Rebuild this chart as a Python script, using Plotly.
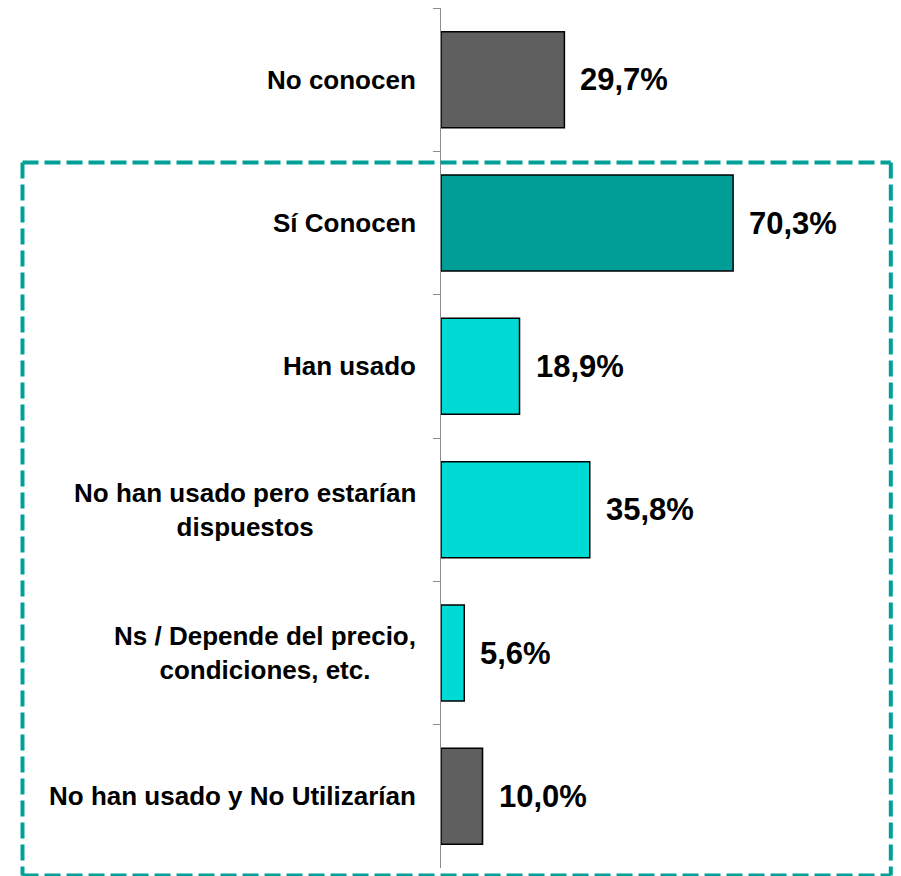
import plotly.graph_objects as go

categories = [
    "No conocen",
    "Sí Conocen",
    "Han usado",
    "No han usado pero estarían dispuestos",
    "Ns / Depende del precio, condiciones, etc.",
    "No han usado y No Utilizarían",
]
label_texts = [
    "No conocen",
    "Sí Conocen",
    "Han usado",
    "No han usado pero estarían<br>dispuestos",
    "Ns / Depende del precio,<br>condiciones, etc.",
    "No han usado y No Utilizarían",
]
values = [29.7, 70.3, 18.9, 35.8, 5.6, 10.0]
value_labels = ["29,7%", "70,3%", "18,9%", "35,8%", "5,6%", "10,0%"]
bar_colors = ["#5f5f5f", "#009e96", "#00dad4", "#00dad4", "#00dad4", "#5f5f5f"]

FONT = "Liberation Sans, Arial, sans-serif"

fig = go.Figure()
fig.add_trace(go.Bar(
    x=values, y=categories, orientation="h",
    marker=dict(color=bar_colors, line=dict(color="#000000", width=1.5)),
    width=0.67, hoverinfo="skip",
))

annotations = []
for cat, txt in zip(categories, label_texts):
    annotations.append(dict(
        xref="paper", yref="y", x=0, y=cat, text=txt, showarrow=False,
        xanchor="right", yanchor="middle", align="center", xshift=-23,
        font=dict(family=FONT, size=26, color="#000000", weight="bold"),
    ))
for cat, v, lab in zip(categories, values, value_labels):
    annotations.append(dict(
        xref="x", yref="y", x=v, y=cat, text=lab, showarrow=False,
        xanchor="left", yanchor="middle", xshift=14,
        font=dict(family=FONT, size=31, color="#000000", weight="bold"),
    ))

# page has an 8px body margin, so the figure is shifted by 8px
W, H = 885, 868
ml, mr, mt, mb = 433, 0, 0, 8
pw = W - ml - mr
ph = H - mt - mb

def px_x(p):
    return (p - ml) / pw

def px_y(p):
    return (H - mb - p) / ph

dash_line = dict(color="#00a098", width=4, dash="16px,6px")
x_left, x_right = px_x(14.5), px_x(882.8)
y_top, y_bot = px_y(154.5), px_y(867.5)
for x0, y0, x1, y1 in [
    (x_left, y_top, x_right, y_top),
    (x_left, y_top, x_left, y_bot),
    (x_right, y_top, x_right, y_bot),
    (x_left, y_bot, x_right, y_bot),
]:
    fig.add_shape(type="line", xref="paper", yref="paper",
                  x0=x0, y0=y0, x1=x1, y1=y1, line=dash_line, layer="above")

fig.update_layout(
    width=W, height=H,
    margin=dict(l=ml, r=mr, t=mt, b=mb),
    paper_bgcolor="white", plot_bgcolor="white",
    showlegend=False,
    annotations=annotations,
    xaxis=dict(range=[0, pw / 4.155], visible=False, fixedrange=True),
    yaxis=dict(
        autorange="reversed", showticklabels=False,
        ticks="outside", tickson="boundaries", ticklen=7, tickcolor="#8c8c8c",
        tickwidth=1, showline=True, linecolor="#8c8c8c", linewidth=1,
        showgrid=False, zeroline=False,
    ),
    bargap=0.33,
)

fig.write_html("out.html")
